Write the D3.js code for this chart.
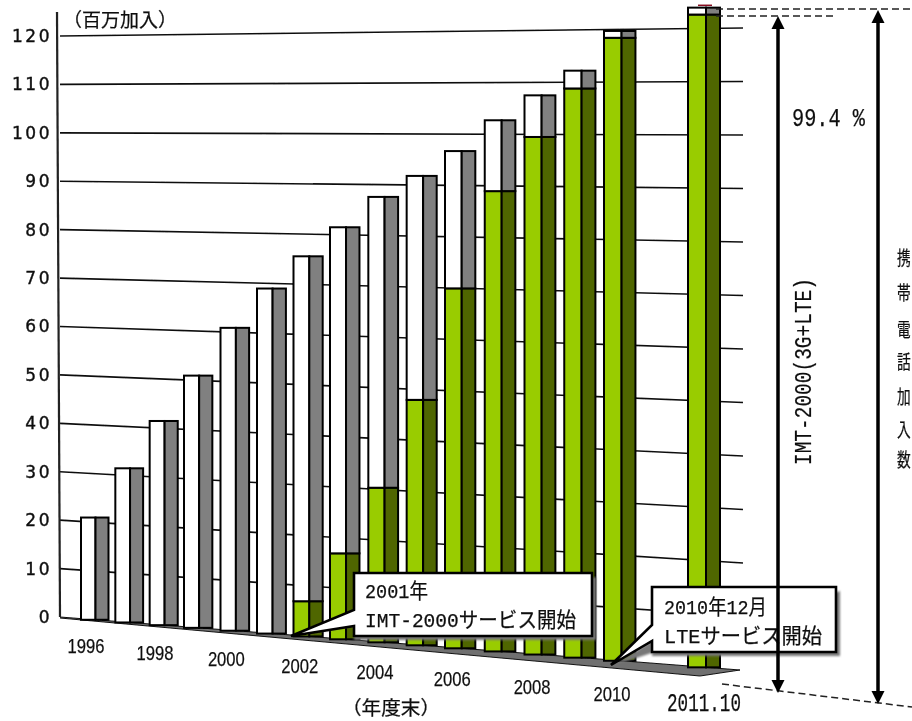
<!DOCTYPE html>
<html><head><meta charset="utf-8">
<style>html,body{margin:0;background:#fff}svg{display:block}</style>
<script src="https://cdn.jsdelivr.net/npm/d3@7"></script></head><body>
<script>
const categories=["1996","1997","1998","1999","2000","2001","2002","2003","2004","2005","2006","2007","2008","2009","2010","2011.10"];
const positions=[0,1,2,3,4,5,6,7,8,9,10,11,12,13,14,16];
const totalSubs=[21,31.5,41.5,51,60.9,69,75.6,81.5,87.6,91.8,96.7,102.7,107.5,112.2,119.7,123.9];
const imtSubs=[0,0,0,0,0,0,7,17,30.4,48,70,89,99.5,108.8,118.4,122.6];
const lteSubs=[0,0,0,0,0,0,0,0,0,0,0,0,0,0,0,0.3];
const yTicks=[0,10,20,30,40,50,60,70,80,90,100,110,120];
const yearLabels=["1996","1998","2000","2002","2004","2006","2008","2010","2011.10"];
const verticalTitle=["携","帯","電","話","加","入","数"];
const callouts=[["2001年","IMT-2000サービス開始"],["2010年12月","LTEサービス開始"]];

const W=912,H=721,cjk='"Noto Sans CJK JP","Noto Sans",sans-serif',mono='"Liberation Mono","Noto Sans CJK JP",monospace';
const svg=d3.select("body").append("svg").attr("width",W).attr("height",H).attr("viewBox",[0,0,W,H]);
svg.append("rect").attr("width",W).attr("height",H).attr("fill","#fff");
const defs=svg.append("defs");
defs.append("filter").attr("id","soft").append("feGaussianBlur").attr("stdDeviation",0.4);
defs.append("filter").attr("id","shadow").attr("x","-10%").attr("y","-10%").attr("width","120%").attr("height","120%").append("feGaussianBlur").attr("stdDeviation",1);
const root=svg.append("g").attr("filter","url(#soft)");

// perspective scales
const xL=60,xR=740;
const yLeft=d3.scaleLinear().domain([0,120]).range([617,36]);
const yRight=d3.scaleLinear().domain([0,120]).range([670,28]);
const tAt=d3.scaleLinear().domain([xL,xR]).range([0,1]);
const yAt=(v,x)=>d3.interpolateNumber(yLeft(v),yRight(v))(tAt(x));
const xPos=d3.scaleLinear().domain([0,3,7,10,14,16]).range([81,184,330,445,604,688]);
const frontW=d3.scaleLinear().domain([0,16]).range([14.5,18]);
const sideW=d3.scaleLinear().domain([0,16]).range([13,14]);

// floor
root.append("path").attr("d",d3.line()([[xL,yLeft(0)],[xR,yRight(0)],[700,676],[xL,yLeft(0)+1]]))
  .attr("fill","#707070").attr("stroke","#111").attr("stroke-width",1);

// gridlines
root.append("g").selectAll("line").data(yTicks.slice(1)).join("line")
  .attr("x1",xL).attr("x2",xR+3).attr("y1",d=>yLeft(d)).attr("y2",d=>yRight(d))
  .attr("stroke","#111").attr("stroke-width",1.6);

// y axis
const axis=root.append("g").attr("transform",`translate(${xL-2},0)`)
  .call(d3.axisLeft(yLeft).tickValues(yTicks).tickSize(0).tickPadding(6));
axis.select(".domain").remove();
axis.selectAll("text").attr("font-family","DejaVu Sans").attr("font-size",17).attr("letter-spacing",2.5).attr("fill","#111").attr("stroke","#111").attr("stroke-width",0.4);
root.append("line").attr("x1",57).attr("y1",12).attr("x2",60).attr("y2",617).attr("stroke","#222").attr("stroke-width",2.2);

// bars
const data=categories.map((c,i)=>({c,p:positions[i],total:totalSubs[i],imt:imtSubs[i],lte:lteSubs[i]}));
const bars=root.append("g").selectAll("g").data(data).join("g");
function seg(sel,lo,hi,front,side){
  sel.filter(d=>hi(d)>lo(d)).each(function(d){
    const g=d3.select(this),x0=xPos(d.p),x1=x0+frontW(d.p),x2=x1+sideW(d.p),xm=x1;
    const y0=yAt(lo(d),xm),y1=yAt(hi(d),xm);
    g.append("rect").attr("x",x0).attr("y",y1).attr("width",x1-x0).attr("height",y0-y1).attr("fill",front).attr("stroke","#000").attr("stroke-width",2);
    g.append("rect").attr("x",x1).attr("y",y1).attr("width",x2-x1).attr("height",y0-y1).attr("fill",side).attr("stroke","#000").attr("stroke-width",2);
  });
}
seg(bars,d=>0,d=>d.imt,"#99cc00","#4f6600");
seg(bars,d=>d.imt,d=>d.total,"#ffffff","#808080");
bars.filter(d=>d.lte>0).each(function(d){
  const x1=xPos(d.p)+frontW(d.p);
  d3.select(this).append("rect").attr("x",x1-8).attr("y",yAt(d.total+d.lte,x1)-1.5).attr("width",14).attr("height",1.5).attr("fill","#8a1020");
});

// year labels
const labelY=d3.scaleLinear().domain([87,704]).range([646,702]);
const labelX=new Map(data.map(d=>[d.c,xPos(d.p)+frontW(d.p)+(d.c==="2011.10"?-2:-9.5)]));
root.append("g").selectAll("text").data(yearLabels).join("text")
  .attr("x",d=>labelX.get(d)).attr("y",d=>labelY(labelX.get(d)))
  .attr("dy","0.35em").attr("text-anchor","middle").attr("font-family",d=>d==="2011.10"?mono:"Liberation Sans")
  .attr("font-size",d=>d==="2011.10"?25:21).attr("fill","#111").attr("stroke","#111").attr("stroke-width",0.25)
  .attr("textLength",d=>d==="2011.10"?74:37).attr("lengthAdjust","spacingAndGlyphs").text(d=>d);

// text helper
const txt=(t,x,y,size,len,fam=cjk)=>{const s=root.append("text").attr("x",x).attr("y",y).attr("dy","0.35em")
  .attr("font-family",fam).attr("font-size",size).attr("fill","#111").attr("stroke","#111").attr("stroke-width",0.25).text(t);
  if(len)s.attr("textLength",len).attr("lengthAdjust","spacingAndGlyphs");return s;};
txt("（百万加入）",63,20,19,114);
txt("（年度末）",342,708,19,98);

// callouts
function callout(b,tip,p0,p1,lines){
  const g=root.append("g");
  g.append("path").attr("d",d3.line()([[b.x+b.w+4,b.y+4],[b.x+b.w+4,b.y+b.h+4],[b.x,b.y+b.h+4],[b.x,p1],[tip[0]+1,tip[1]+1]]))
    .attr("fill","#777").attr("filter","url(#shadow)");
  g.append("path").attr("d",d3.line().curve(d3.curveLinearClosed)([[b.x,b.y],[b.x+b.w,b.y],[b.x+b.w,b.y+b.h],[b.x,b.y+b.h],[b.x,p1],tip,[b.x,p0]]))
    .attr("fill","#fff").attr("stroke","#000").attr("stroke-width",2.6).attr("stroke-linejoin","miter");
  lines.forEach(l=>txt(l.t,l.x,l.y,l.s,l.len,mono));
}
callout({x:354,y:573,w:238,h:63},[291,636],610,626,[
 {t:callouts[0][0],x:365,y:591,s:21,len:63},{t:callouts[0][1],x:365,y:620,s:21,len:211}]);
callout({x:652,y:587,w:184,h:65},[611,665],625,641,[
 {t:callouts[1][0],x:664,y:607,s:21,len:103},{t:callouts[1][1],x:664,y:636,s:21,len:158}]);

// reference dashed lines
const dash=(x1,y1,x2,y2)=>root.append("line").attr("x1",x1).attr("y1",y1).attr("x2",x2).attr("y2",y2)
  .attr("stroke","#222").attr("stroke-width",1.5).attr("stroke-dasharray","7 4");
dash(716,9,912,9);dash(716,16,834,16);dash(722,684,912,707);

// arrows
function arrow(x,y1,y2){
  root.append("line").attr("x1",x).attr("x2",x).attr("y1",y1+8).attr("y2",y2-8).attr("stroke","#000").attr("stroke-width",3.5);
  root.append("path").attr("d",d3.line()([[x,y1],[x+6.5,y1+13],[x-6.5,y1+13]])+"Z").attr("fill","#000");
  root.append("path").attr("d",d3.line()([[x,y2],[x+6.5,y2-13],[x-6.5,y2-13]])+"Z").attr("fill","#000");
}
arrow(778,16,693);arrow(878,10,704);

txt("99.4 %",792,117,26,73,mono);
root.append("text").attr("transform","translate(803,465) rotate(-90)").attr("dy","0.35em")
  .attr("font-family",mono).attr("font-size",23).attr("fill","#111").attr("stroke","#111").attr("stroke-width",0.2)
  .attr("textLength",187).attr("lengthAdjust","spacingAndGlyphs").text("IMT-2000(3G+LTE)");
const vy=[258,293,330,362,397,430,460];
root.append("g").selectAll("text").data(verticalTitle).join("text")
  .attr("transform",(d,i)=>`translate(897,${vy[i]}) scale(0.72,1)`).attr("dy","0.35em").attr("font-family",cjk).attr("font-size",19).attr("fill","#111").attr("stroke","#111").attr("stroke-width",0.25).text(d=>d);
</script></body></html>
